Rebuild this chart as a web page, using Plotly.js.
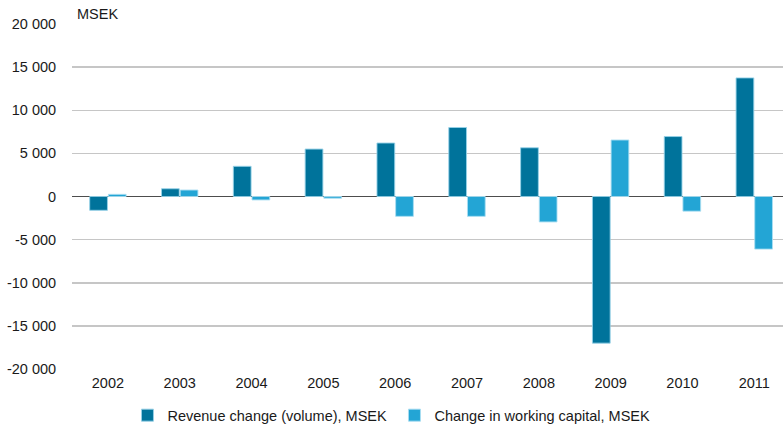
<!DOCTYPE html>
<html>
<head>
<meta charset="utf-8">
<script src="https://cdn.plot.ly/plotly-3.0.1.min.js"></script>
<style>
html,body{margin:0;padding:0;background:#fff;}
#chart{width:783px;height:428px;}
</style>
</head>
<body>
<div id="chart"></div>
<script>
var years = ["2002","2003","2004","2005","2006","2007","2008","2009","2010","2011"];
var revenueChange = [-1600, 900, 3500, 5500, 6200, 8000, 5650, -17000, 6950, 13750];
var workingCapital = [250, 750, -400, -200, -2300, -2300, -2950, 6550, -1700, -6100];
var yTickVals = [-20000, -15000, -10000, -5000, 0, 5000, 10000, 15000, 20000];
var yTickText = ["-20 000", "-15 000", "-10 000", "-5 000", "0", "5 000", "10 000", "15 000", "20 000"];
var seriesNames = ["Revenue change (volume), MSEK", "Change in working capital, MSEK"];
var unitLabel = "MSEK";

var font = {family: "Liberation Sans, Arial, sans-serif", size: 14.5, color: "#1a1a1a"};

var traces = [
  {
    type: "bar", x: years, y: revenueChange, name: seriesNames[0],
    marker: {color: "#00739b", line: {color: "rgba(150,210,232,0.9)", width: 1}},
    hoverinfo: "skip"
  },
  {
    type: "bar", x: years, y: workingCapital, name: seriesNames[1],
    marker: {color: "#23a5d5", line: {color: "rgba(170,222,242,0.9)", width: 1}},
    hoverinfo: "skip"
  }
];

var layout = {
  width: 783, height: 428,
  margin: {l: 72, r: 0, t: 24, b: 59, autoexpand: false},
  paper_bgcolor: "#ffffff", plot_bgcolor: "#ffffff",
  font: font,
  barmode: "group",
  bargap: 0.48,
  bargroupgap: 0.05,
  showlegend: true,
  legend: {
    orientation: "h", x: 0.078, xanchor: "left", y: -0.134, yanchor: "middle",
    font: font, traceorder: "normal", entrywidth: 222, entrywidthmode: "pixels"
  },
  xaxis: {
    type: "category", range: [-0.5, 9.4], showgrid: false, zeroline: false,
    showline: false, ticks: "outside", ticklen: 1, tickcolor: "rgba(0,0,0,0)",
    tickfont: font, fixedrange: true, automargin: false
  },
  yaxis: {
    range: [-20000, 20000], tickvals: yTickVals, ticktext: yTickText,
    showgrid: true, gridcolor: "#c6c6c6", gridwidth: 1.5,
    zeroline: true, zerolinecolor: "#4d4d4d", zerolinewidth: 1.5,
    showline: false, ticks: "outside", ticklen: 12, tickcolor: "rgba(0,0,0,0)",
    tickfont: font, fixedrange: true, automargin: false
  },
  annotations: [{
    text: unitLabel, xref: "paper", yref: "paper", x: 0.004, y: 1.03,
    xanchor: "left", yanchor: "middle", showarrow: false, font: font
  }]
};

Plotly.newPlot("chart", traces, layout, {displayModeBar: false, staticPlot: true});
</script>
</body>
</html>
